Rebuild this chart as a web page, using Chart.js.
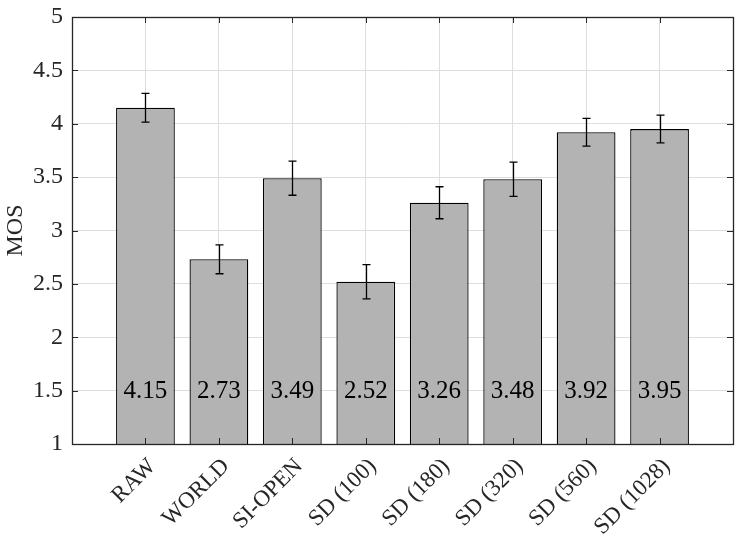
<!DOCTYPE html>
<html>
<head>
<meta charset="utf-8">
<script src="https://cdn.jsdelivr.net/npm/chart.js@4/dist/chart.umd.min.js"></script>
<style>
  html, body { margin: 0; padding: 0; background: #fff; }
  #wrap { width: 736px; height: 545px; }
  #probe { position: absolute; left: -999px; font-family: 'Liberation Serif'; font-size: 21px; }
</style>
</head>
<body>
<div id="probe">MOS 4.15 RAW</div>
<div id="wrap"><canvas id="mosChart" width="736" height="545"></canvas></div>
<script>
// data
var categories = ['RAW', 'WORLD', 'SI-OPEN', 'SD (100)', 'SD (180)', 'SD (320)', 'SD (560)', 'SD (1028)'];
var mosValues  = [4.15, 2.73, 3.49, 2.52, 3.26, 3.48, 3.92, 3.95];
var mosError   = [0.135, 0.135, 0.16, 0.16, 0.15, 0.16, 0.13, 0.13];
var labelLevel = 1.5;   // where the value text sits

var serif = "'Liberation Serif', 'Times New Roman', Times, serif";
var ink = '#262626';

var points = [];
for (var i = 0; i < categories.length; i++) {
    points.push({ x: i + 1, y: mosValues[i] });
}

// box, inward ticks, error bars and value text
var extras = {
    id: 'extras',
    afterDatasetsDraw: function(chart) {
        var ctx = chart.ctx;
        var a = chart.chartArea;
        var xs = chart.scales.x, ys = chart.scales.y;
        ctx.save();

        // error bars
        ctx.strokeStyle = '#000';
        ctx.lineWidth = 1.3;
        for (var i = 0; i < mosValues.length; i++) {
            var px = Math.round(xs.getPixelForValue(i + 1)) + 0.5;
            var top = ys.getPixelForValue(mosValues[i] + mosError[i]);
            var bot = ys.getPixelForValue(mosValues[i] - mosError[i]);
            ctx.beginPath();
            ctx.moveTo(px, top); ctx.lineTo(px, bot);
            ctx.moveTo(px - 4, top); ctx.lineTo(px + 4, top);
            ctx.moveTo(px - 4, bot); ctx.lineTo(px + 4, bot);
            ctx.stroke();
        }

        // value labels
        ctx.fillStyle = '#000';
        ctx.font = '25px ' + serif;
        ctx.textAlign = 'center';
        ctx.textBaseline = 'middle';
        var ly = ys.getPixelForValue(labelLevel);
        for (var j = 0; j < mosValues.length; j++) {
            ctx.fillText(mosValues[j].toFixed(2), xs.getPixelForValue(j + 1), ly + 1);
        }

        // axes box
        ctx.strokeStyle = ink;
        ctx.lineWidth = 1.3;
        ctx.strokeRect(Math.round(a.left) + 0.5, Math.round(a.top) + 0.5,
                       Math.round(a.right - a.left), Math.round(a.bottom - a.top));

        // inward ticks
        ctx.lineWidth = 1;
        ctx.beginPath();
        for (var k = 1; k <= categories.length; k++) {
            var tx = Math.round(xs.getPixelForValue(k)) + 0.5;
            ctx.moveTo(tx, a.bottom); ctx.lineTo(tx, a.bottom - 6);
            ctx.moveTo(tx, a.top); ctx.lineTo(tx, a.top + 6);
        }
        for (var v = 1.5; v < 5; v += 0.5) {
            var ty = Math.round(ys.getPixelForValue(v)) + 0.5;
            ctx.moveTo(a.left, ty); ctx.lineTo(a.left + 6, ty);
            ctx.moveTo(a.right, ty); ctx.lineTo(a.right - 6, ty);
        }
        ctx.stroke();
        ctx.restore();
    }
};

function drawChart() {
    var ctx = document.getElementById('mosChart');
    return new Chart(ctx, {
        type: 'bar',
        data: {
            datasets: [{
                data: points,
                backgroundColor: '#b3b3b3',
                borderColor: '#000',
                borderWidth: 1.3,
                categoryPercentage: 1,
                barPercentage: 0.8
            }]
        },
        options: {
            responsive: false,
            animation: false,
            layout: { padding: { top: 17, right: 3, left: 0, bottom: 0 } },
            plugins: { legend: { display: false }, tooltip: { enabled: false } },
            scales: {
                x: {
                    type: 'linear',
                    min: 0,
                    max: 9,
                    offset: false,
                    afterBuildTicks: function(scale) {
                        scale.ticks = categories.map(function(c, i) { return { value: i + 1 }; });
                    },
                    afterFit: function(scale) {
                        scale.height = 101;
                        scale.paddingLeft = 0;
                        scale.paddingRight = 0;
                    },
                    ticks: {
                        autoSkip: false,
                        maxRotation: 45,
                        minRotation: 45,
                        padding: 9,
                        labelOffset: 7,
                        color: ink,
                        font: { family: serif, size: 23 },
                        callback: function(v) { return categories[v - 1] || ''; }
                    },
                    grid: { color: '#dedede', lineWidth: 1, drawTicks: false, offset: false },
                    border: { display: false }
                },
                y: {
                    min: 1,
                    max: 5,
                    afterFit: function(scale) {
                        scale.width = 72;
                        scale.paddingTop = 0;
                        scale.paddingBottom = 0;
                    },
                    ticks: {
                        stepSize: 0.5,
                        padding: 9,
                        color: ink,
                        font: { family: serif, size: 24 },
                        callback: function(v) { return String(v); }
                    },
                    grid: { color: '#dedede', lineWidth: 1, drawTicks: false },
                    border: { display: false },
                    title: {
                        display: true,
                        text: 'MOS',
                        color: ink,
                        font: { family: serif, size: 24 },
                        padding: { top: 1, bottom: 0 }
                    }
                }
            }
        },
        plugins: [extras]
    });
}

if (document.fonts && document.fonts.load) {
    document.fonts.load("21px 'Liberation Serif'").then(drawChart, drawChart);
} else {
    drawChart();
}
</script>
</body>
</html>
